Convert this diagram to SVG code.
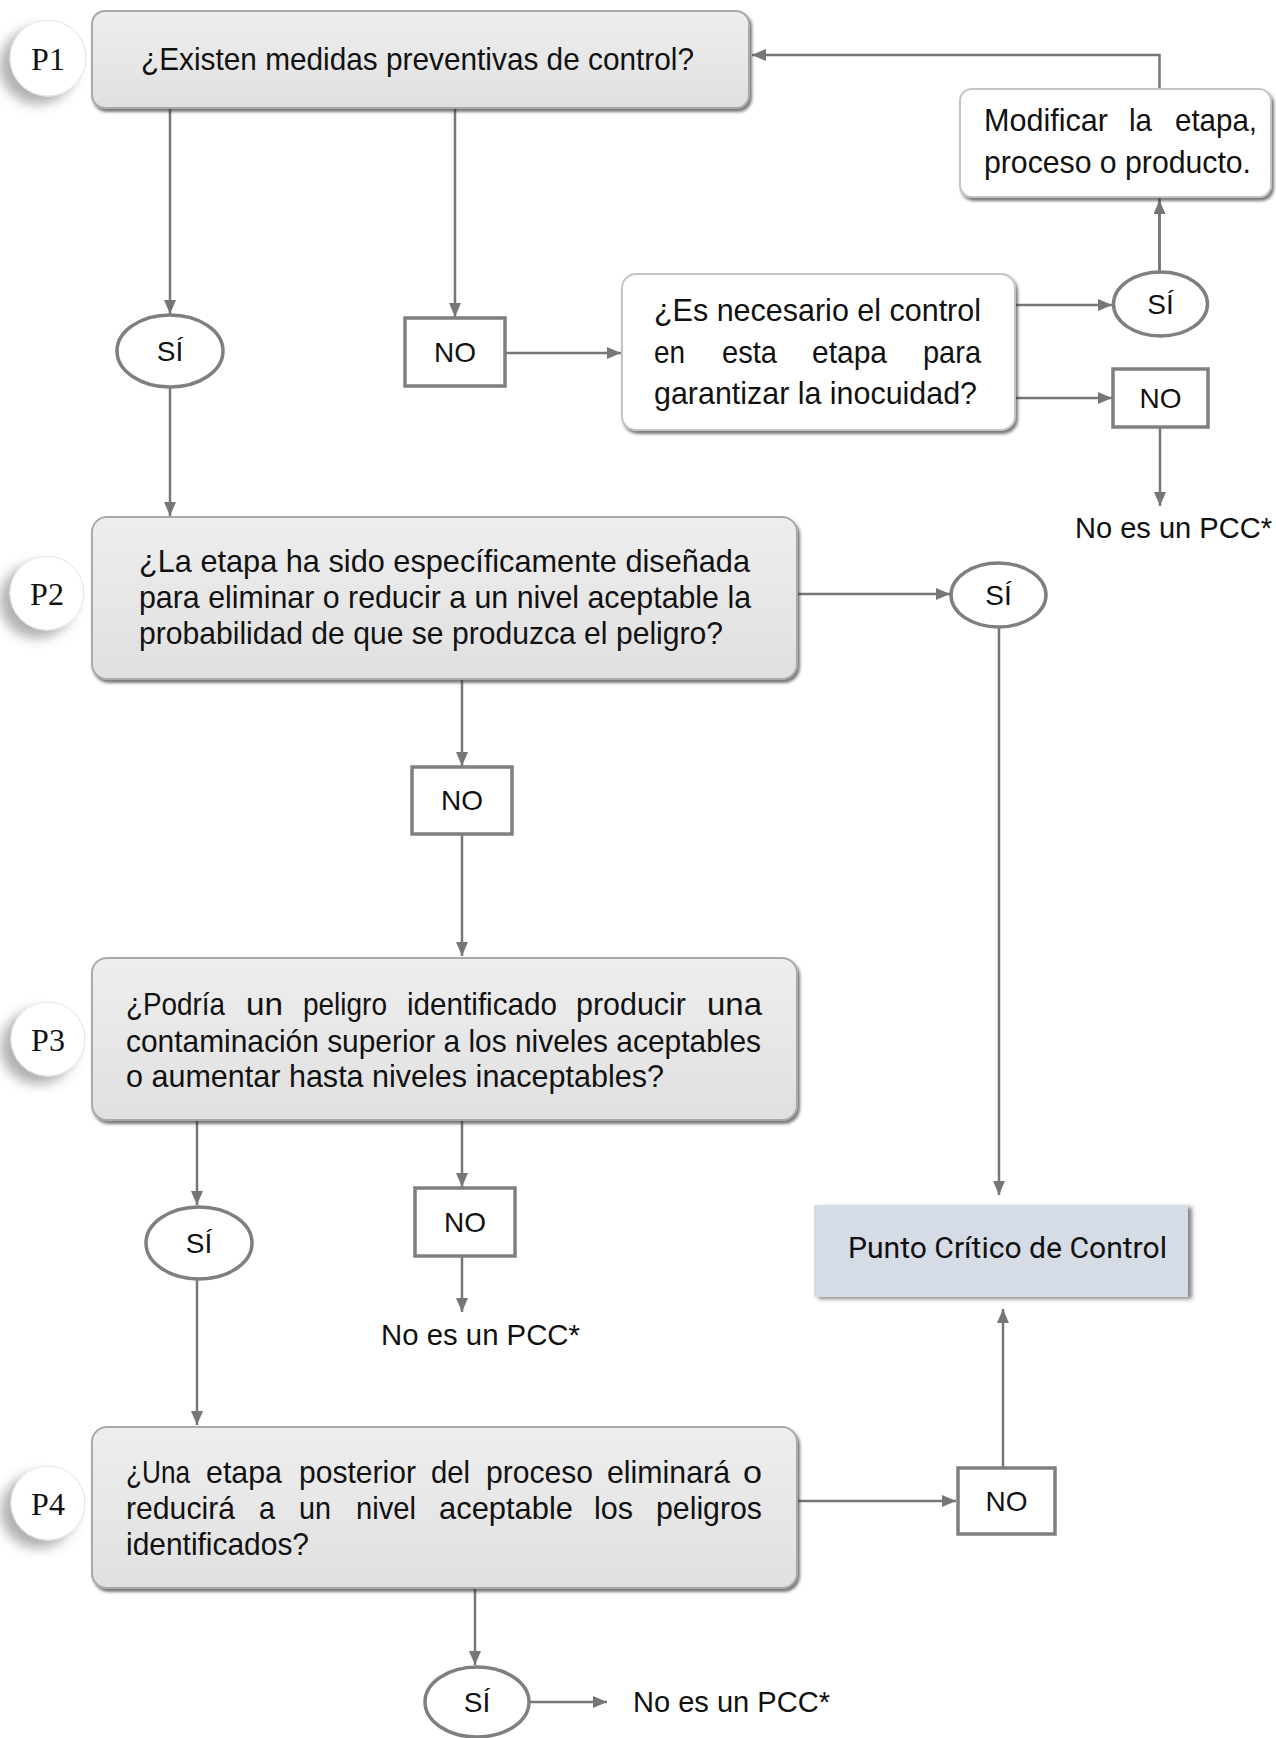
<svg xmlns="http://www.w3.org/2000/svg" width="1276" height="1738" viewBox="0 0 1276 1738">
<style>
.q{font-family:"Liberation Sans",Arial,sans-serif;font-size:32px;fill:#111}
.lab{font-family:"Liberation Sans",Arial,sans-serif;font-size:28px;fill:#111;text-anchor:middle}
.np{font-family:"Liberation Sans",Arial,sans-serif;font-size:29px;fill:#111}
.pl{font-family:"Liberation Serif","Times New Roman",serif;font-size:32px;fill:#111;text-anchor:middle}
.qbox{fill:url(#gq);stroke:#a9a9a9;stroke-width:2;filter:url(#sh)}
.wbox{fill:#fff;stroke:#c4c4c4;stroke-width:2;filter:url(#sh)}
.nobox{fill:#fff;stroke:#7f7f7f;stroke-width:3.5}
.ell{fill:#fff;stroke:#7f7f7f;stroke-width:3.5}
.pc{fill:#fff;stroke:#e2e2e2;stroke-width:1;filter:url(#psh)}
.ln{fill:none;stroke:#767676;stroke-width:2.5;marker-end:url(#ah)}
</style>
<defs>
<linearGradient id="gq" x1="0" y1="0" x2="0" y2="1">
<stop offset="0" stop-color="#eeeeee"/>
<stop offset="1" stop-color="#e0e0e0"/>
</linearGradient>
<filter id="sh" x="-5%" y="-10%" width="112%" height="125%">
<feDropShadow dx="2" dy="3" stdDeviation="1.8" flood-color="#333" flood-opacity="0.65"/>
</filter>
<filter id="psh" x="-60%" y="-40%" width="180%" height="180%">
<feDropShadow dx="-10" dy="8" stdDeviation="6" flood-color="#000" flood-opacity="0.3"/>
</filter>
<filter id="bsh" x="-5%" y="-10%" width="115%" height="125%">
<feDropShadow dx="4" dy="2" stdDeviation="2" flood-color="#333" flood-opacity="0.6"/>
</filter>
<marker id="ah" markerWidth="14" markerHeight="12" refX="14" refY="6" orient="auto" markerUnits="userSpaceOnUse">
<path d="M0,0 L14,6 L0,12 z" fill="#767676"/>
</marker>
</defs>

<g id="connectors">
<path class="ln" d="M1159.5,272 V55 H752"/>
<path class="ln" d="M1159.5,272 V200"/>
<path class="ln" d="M170,108 V314"/>
<path class="ln" d="M455,108 V317"/>
<path class="ln" d="M505,353 H621"/>
<path class="ln" d="M1015,305 H1112"/>
<path class="ln" d="M1015,398 H1112"/>
<path class="ln" d="M1160,427 V506"/>
<path class="ln" d="M170,388 V516"/>
<path class="ln" d="M797,594 H950"/>
<path class="ln" d="M999,627 V1195"/>
<path class="ln" d="M462,679 V766"/>
<path class="ln" d="M462,834 V956"/>
<path class="ln" d="M197,1120 V1205"/>
<path class="ln" d="M462,1120 V1187"/>
<path class="ln" d="M462,1256 V1312"/>
<path class="ln" d="M197,1280 V1425"/>
<path class="ln" d="M797,1501 H956"/>
<path class="ln" d="M1003,1468 V1309"/>
<path class="ln" d="M475,1588 V1665"/>
<path class="ln" d="M530,1702 H607"/>
</g>

<g id="p1-label"><circle class="pc" cx="48" cy="58" r="38"/><text class="pl" x="48" y="70">P1</text></g>
<g id="p2-label"><circle class="pc" cx="47" cy="593" r="37"/><text class="pl" x="47" y="605">P2</text></g>
<g id="p3-label"><circle class="pc" cx="48" cy="1039" r="37"/><text class="pl" x="48" y="1051">P3</text></g>
<g id="p4-label"><circle class="pc" cx="48" cy="1503" r="37"/><text class="pl" x="48" y="1515">P4</text></g>

<g id="q1">
<rect class="qbox" x="92" y="11" width="657" height="97" rx="13"/>
<text class="q" x="141" y="70" textLength="553" lengthAdjust="spacingAndGlyphs">¿Existen medidas preventivas de control?</text>
</g>

<g id="modificar">
<rect class="wbox" x="960" y="89" width="311" height="108" rx="12"/>
<text class="q" x="984" y="131" textLength="124" lengthAdjust="spacingAndGlyphs">Modificar</text>
<text class="q" x="1129" y="131" textLength="23" lengthAdjust="spacingAndGlyphs">la</text>
<text class="q" x="1175" y="131" textLength="82" lengthAdjust="spacingAndGlyphs">etapa,</text>
<text class="q" x="984" y="173" textLength="267" lengthAdjust="spacingAndGlyphs">proceso o producto.</text>
</g>

<g id="si-top-left"><ellipse class="ell" cx="170" cy="351" rx="53" ry="36"/><text class="lab" x="170" y="361">SÍ</text></g>
<g id="no-top"><rect class="nobox" x="405" y="318" width="100" height="68"/><text class="lab" x="455" y="362">NO</text></g>

<g id="q-control">
<rect class="wbox" x="622" y="274" width="393" height="156" rx="14"/>
<text class="q" x="654" y="321" textLength="327" lengthAdjust="spacingAndGlyphs">¿Es necesario el control</text>
<text class="q" x="654" y="363" textLength="31" lengthAdjust="spacingAndGlyphs">en</text>
<text class="q" x="722" y="363" textLength="55" lengthAdjust="spacingAndGlyphs">esta</text>
<text class="q" x="812" y="363" textLength="75" lengthAdjust="spacingAndGlyphs">etapa</text>
<text class="q" x="923" y="363" textLength="58" lengthAdjust="spacingAndGlyphs">para</text>
<text class="q" x="654" y="404" textLength="323" lengthAdjust="spacingAndGlyphs">garantizar la inocuidad?</text>
</g>

<g id="si-control"><ellipse class="ell" cx="1160.5" cy="304" rx="47" ry="32"/><text class="lab" x="1160.5" y="314">SÍ</text></g>
<g id="no-control"><rect class="nobox" x="1113" y="369" width="95" height="58"/><text class="lab" x="1160.5" y="408">NO</text></g>
<g id="nopcc-1"><text class="np" x="1075" y="538" textLength="197" lengthAdjust="spacingAndGlyphs">No es un PCC*</text></g>

<g id="q2">
<rect class="qbox" x="92" y="517" width="705" height="162" rx="15"/>
<text class="q" x="139" y="572" textLength="611" lengthAdjust="spacingAndGlyphs">¿La etapa ha sido específicamente diseñada</text>
<text class="q" x="139" y="608" textLength="612" lengthAdjust="spacingAndGlyphs">para eliminar o reducir a un nivel aceptable la</text>
<text class="q" x="139" y="644" textLength="584" lengthAdjust="spacingAndGlyphs">probabilidad de que se produzca el peligro?</text>
</g>

<g id="si-q2"><ellipse class="ell" cx="998.5" cy="595" rx="47.5" ry="32"/><text class="lab" x="998.5" y="605">SÍ</text></g>
<g id="no-q2"><rect class="nobox" x="412" y="767" width="100" height="67"/><text class="lab" x="462" y="810">NO</text></g>

<g id="q3">
<rect class="qbox" x="92" y="958" width="705" height="162" rx="15"/>
<text class="q" x="126" y="1015" textLength="99" lengthAdjust="spacingAndGlyphs">¿Podría</text>
<text class="q" x="246" y="1015" textLength="37" lengthAdjust="spacingAndGlyphs">un</text>
<text class="q" x="303" y="1015" textLength="84" lengthAdjust="spacingAndGlyphs">peligro</text>
<text class="q" x="407" y="1015" textLength="150" lengthAdjust="spacingAndGlyphs">identificado</text>
<text class="q" x="576" y="1015" textLength="110" lengthAdjust="spacingAndGlyphs">producir</text>
<text class="q" x="707" y="1015" textLength="55" lengthAdjust="spacingAndGlyphs">una</text>
<text class="q" x="126" y="1052" textLength="635" lengthAdjust="spacingAndGlyphs">contaminación superior a los niveles aceptables</text>
<text class="q" x="126" y="1087" textLength="538" lengthAdjust="spacingAndGlyphs">o aumentar hasta niveles inaceptables?</text>
</g>

<g id="si-q3"><ellipse class="ell" cx="199" cy="1243" rx="53" ry="36"/><text class="lab" x="199" y="1253">SÍ</text></g>
<g id="no-q3"><rect class="nobox" x="415" y="1188" width="100" height="68"/><text class="lab" x="465" y="1232">NO</text></g>
<g id="nopcc-2"><text class="np" x="381" y="1345" textLength="199" lengthAdjust="spacingAndGlyphs">No es un PCC*</text></g>

<g id="pcc">
<rect x="814" y="1205" width="374" height="92" fill="#d6dce5" filter="url(#bsh)"/>
<text x="848" y="1258" font-family="Roboto,'Liberation Sans',sans-serif" font-size="30" fill="#111" textLength="319" lengthAdjust="spacingAndGlyphs">Punto Crítico de Control</text>
</g>

<g id="q4">
<rect class="qbox" x="92" y="1427" width="705" height="161" rx="15"/>
<text class="q" x="126" y="1483" textLength="64" lengthAdjust="spacingAndGlyphs">¿Una</text>
<text class="q" x="206" y="1483" textLength="76" lengthAdjust="spacingAndGlyphs">etapa</text>
<text class="q" x="299" y="1483" textLength="117" lengthAdjust="spacingAndGlyphs">posterior</text>
<text class="q" x="431" y="1483" textLength="39" lengthAdjust="spacingAndGlyphs">del</text>
<text class="q" x="486" y="1483" textLength="107" lengthAdjust="spacingAndGlyphs">proceso</text>
<text class="q" x="607" y="1483" textLength="123" lengthAdjust="spacingAndGlyphs">eliminará</text>
<text class="q" x="743" y="1483" textLength="19" lengthAdjust="spacingAndGlyphs">o</text>
<text class="q" x="126" y="1519" textLength="109" lengthAdjust="spacingAndGlyphs">reducirá</text>
<text class="q" x="259" y="1519" textLength="16" lengthAdjust="spacingAndGlyphs">a</text>
<text class="q" x="299" y="1519" textLength="32" lengthAdjust="spacingAndGlyphs">un</text>
<text class="q" x="356" y="1519" textLength="60" lengthAdjust="spacingAndGlyphs">nivel</text>
<text class="q" x="439" y="1519" textLength="134" lengthAdjust="spacingAndGlyphs">aceptable</text>
<text class="q" x="594" y="1519" textLength="39" lengthAdjust="spacingAndGlyphs">los</text>
<text class="q" x="656" y="1519" textLength="106" lengthAdjust="spacingAndGlyphs">peligros</text>
<text class="q" x="126" y="1555" textLength="183" lengthAdjust="spacingAndGlyphs">identificados?</text>
</g>

<g id="no-q4"><rect class="nobox" x="958" y="1468" width="97" height="66"/><text class="lab" x="1006.5" y="1511">NO</text></g>
<g id="si-q4"><ellipse class="ell" cx="477" cy="1702" rx="52" ry="35"/><text class="lab" x="477" y="1712">SÍ</text></g>
<g id="nopcc-3"><text class="np" x="633" y="1712" textLength="197" lengthAdjust="spacingAndGlyphs">No es un PCC*</text></g>
</svg>
